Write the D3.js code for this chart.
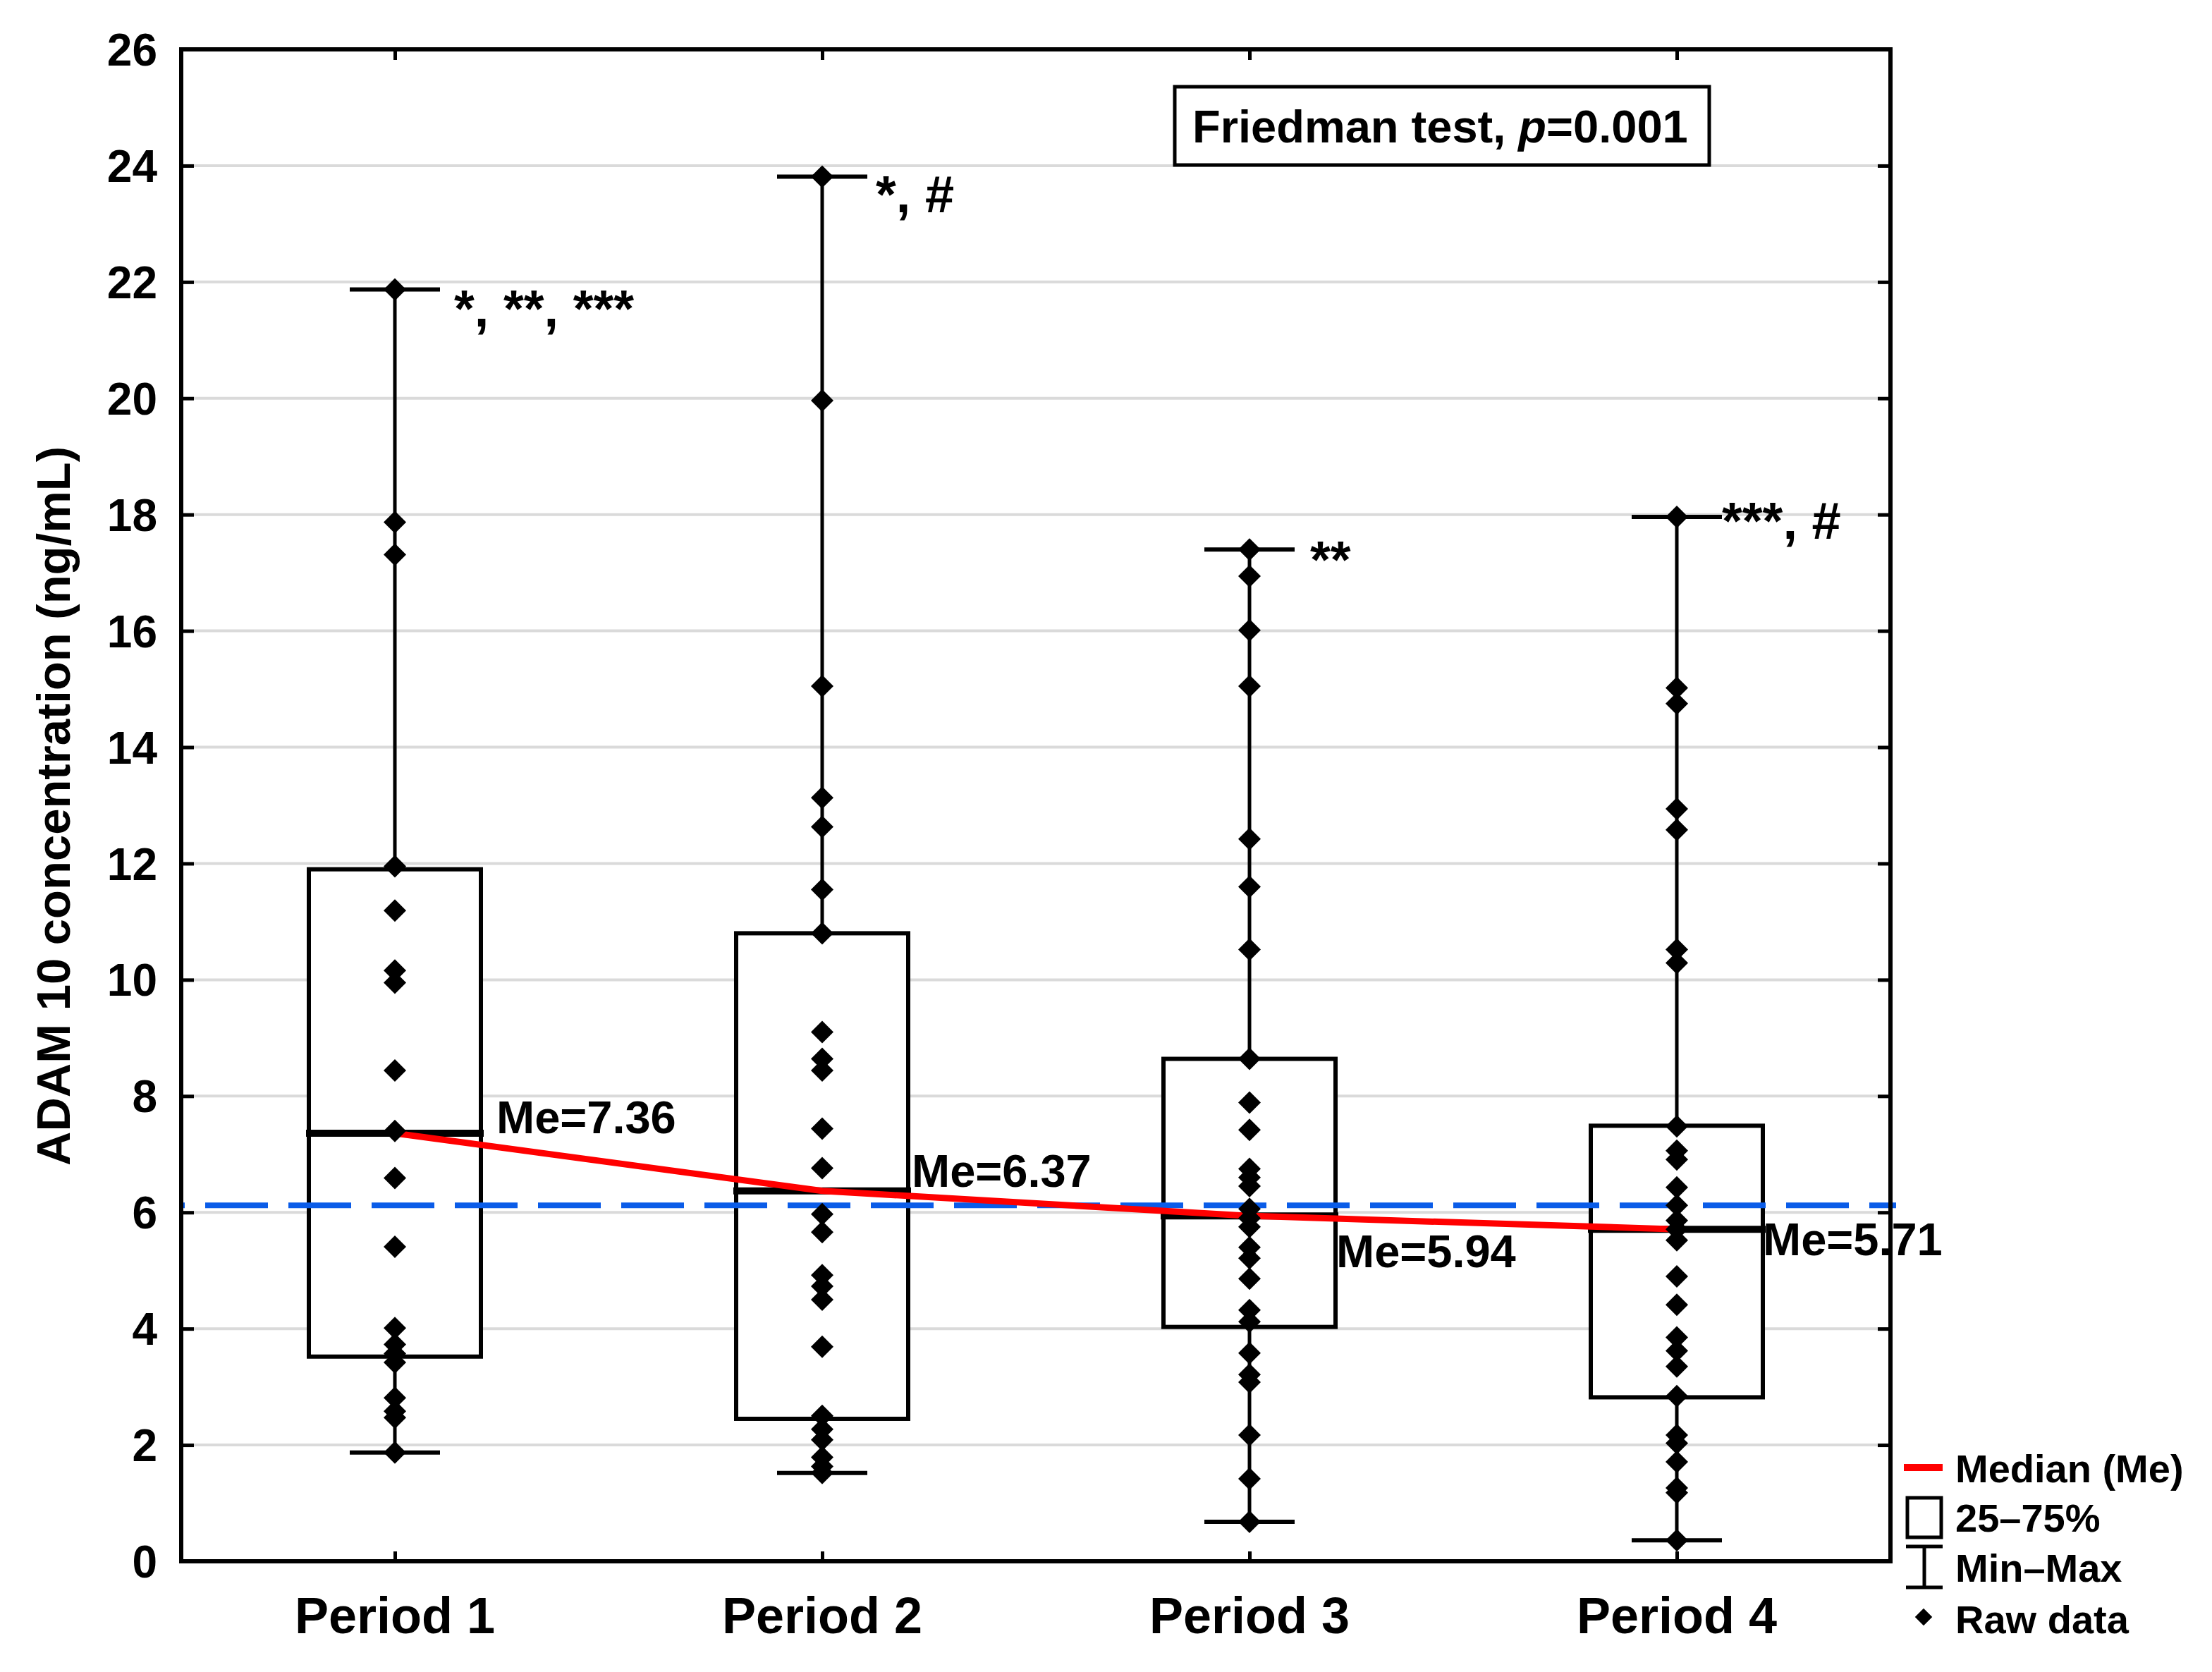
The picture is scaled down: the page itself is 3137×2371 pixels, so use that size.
<!DOCTYPE html>
<html>
<head>
<meta charset="utf-8">
<script src="https://d3js.org/d3.v7.min.js"></script>
<style>
    body { margin: 0; background: #fff; }
    svg { display: block; }
    text { font-family: 'Liberation Sans', Arial, sans-serif; font-weight: bold; fill: #000; }
</style>
</head>
<body>
<svg id="chart" width="3137" height="2371"></svg>
<script>
// values
const periods = ['Period 1', 'Period 2', 'Period 3', 'Period 4'];
const minValues = [1.87, 1.52, 0.68, 0.36];
const q1Values = [3.52, 2.45, 4.03, 2.82];
const medianValues = [7.36, 6.37, 5.94, 5.71];
const q3Values = [11.90, 10.80, 8.64, 7.49];
const maxValues = [21.87, 23.81, 17.40, 17.96];

const rawPeriod1 = [21.87, 17.87, 17.31, 11.95, 11.19, 10.16, 9.95, 8.44, 7.40, 6.59, 5.41,
    4.01, 3.73, 3.57, 3.42, 2.81, 2.58, 2.47, 1.87];
const rawPeriod2 = [23.81, 19.96, 15.05, 13.13, 12.63, 11.55, 10.80, 9.10, 8.64, 8.44, 7.44,
    6.76, 5.97, 5.66, 4.92, 4.73, 4.50, 3.69, 2.50, 2.27, 2.09, 1.79, 1.63, 1.52];
const rawPeriod3 = [17.40, 16.94, 16.01, 15.05, 12.42, 11.60, 10.52, 8.64, 7.89, 7.42, 6.75,
    6.60, 6.45, 6.06, 5.90, 5.75, 5.40, 5.21, 4.86, 4.32, 4.12, 3.58, 3.21, 3.08, 2.17, 1.42, 0.68];
const rawPeriod4 = [17.96, 15.02, 14.75, 12.94, 12.58, 10.52, 10.29, 7.48, 7.06, 6.91, 6.43,
    6.12, 5.86, 5.71, 5.52, 4.90, 4.41, 3.85, 3.62, 3.35, 2.84, 2.17, 2.03, 1.71, 1.26, 1.18, 0.36];
const rawData = [rawPeriod1, rawPeriod2, rawPeriod3, rawPeriod4];

const significance = ['*, **, ***', '*, #', '**', '***, #'];
const referenceLevel = 6.12;
const yTicks = [0, 2, 4, 6, 8, 10, 12, 14, 16, 18, 20, 22, 24, 26];
const legendItems = ['Median (Me)', '25\u201375%', 'Min\u2013Max', 'Raw data'];

// label placement (layout only)
const meLabelOffsets = [{ dx: 144, dy: 0 }, { dx: 127, dy: -6 }, { dx: 123, dy: 73 }, { dx: 122, dy: 37 }];
const sigOffsets = [{ dx: 84, dy: 52 }, { dx: 76, dy: 50 }, { dx: 86, dy: 40 }, { dx: 64, dy: 31 }];

const plot = { left: 257, right: 2681, top: 70, bottom: 2214 };
const boxHalf = 122, capHalf = 64;

const svg = d3.select('#chart');

const x = d3.scalePoint()
    .domain(periods)
    .range([plot.left, plot.right])
    .padding(0.5);

const y = d3.scaleLinear()
    .domain([0, 26])
    .range([plot.bottom, plot.top]);

const stats = periods.map((p, i) => ({
    period: p,
    min: minValues[i],
    q1: q1Values[i],
    median: medianValues[i],
    q3: q3Values[i],
    max: maxValues[i],
    raw: rawData[i],
    sig: significance[i],
    me: meLabelOffsets[i],
    so: sigOffsets[i]
}));

// grid
svg.append('g')
    .selectAll('line')
    .data(yTicks.filter(t => t > 0 && t < 26))
    .join('line')
    .attr('x1', plot.left).attr('x2', plot.right)
    .attr('y1', d => y(d)).attr('y2', d => y(d))
    .attr('stroke', '#dadada')
    .attr('stroke-width', 4);

// axes: left and right with inward ticks
svg.append('g')
    .attr('transform', `translate(${plot.left},0)`)
    .call(d3.axisRight(y).tickValues(yTicks).tickSize(18).tickFormat(''))
    .call(g => g.select('.domain').remove())
    .call(g => g.selectAll('line').attr('stroke-width', 5));

svg.append('g')
    .attr('transform', `translate(${plot.right},0)`)
    .call(d3.axisLeft(y).tickValues(yTicks).tickSize(18).tickFormat(''))
    .call(g => g.select('.domain').remove())
    .call(g => g.selectAll('line').attr('stroke-width', 5));

svg.append('g')
    .attr('transform', `translate(0,${plot.bottom})`)
    .call(d3.axisTop(x).tickSize(14).tickFormat(''))
    .call(g => g.select('.domain').remove())
    .call(g => g.selectAll('line').attr('stroke-width', 5));

svg.append('g')
    .attr('transform', `translate(0,${plot.top})`)
    .call(d3.axisBottom(x).tickSize(15).tickFormat(''))
    .call(g => g.select('.domain').remove())
    .call(g => g.selectAll('line').attr('stroke-width', 5));

// tick labels
svg.append('g')
    .selectAll('text')
    .data(yTicks)
    .join('text')
    .attr('x', 223)
    .attr('y', d => y(d))
    .attr('dy', '0.36em')
    .attr('text-anchor', 'end')
    .attr('font-size', 64)
    .text(d => d);

svg.append('g')
    .selectAll('text')
    .data(periods)
    .join('text')
    .attr('x', d => x(d))
    .attr('y', 2316)
    .attr('text-anchor', 'middle')
    .attr('font-size', 72)
    .text(d => d);

svg.append('text')
    .attr('transform', 'translate(99,1143) rotate(-90)')
    .attr('text-anchor', 'middle')
    .attr('font-size', 67)
    .text('ADAM 10 concentration (ng/mL)');

// whiskers
const box = svg.append('g')
    .selectAll('g')
    .data(stats)
    .join('g');

box.append('line')
    .attr('x1', d => x(d.period)).attr('x2', d => x(d.period))
    .attr('y1', d => y(d.min)).attr('y2', d => y(d.max))
    .attr('stroke', '#000').attr('stroke-width', 5);

box.selectAll('.cap')
    .data(d => [{ p: d.period, v: d.min }, { p: d.period, v: d.max }])
    .join('line')
    .attr('class', 'cap')
    .attr('x1', d => x(d.p) - capHalf).attr('x2', d => x(d.p) + capHalf)
    .attr('y1', d => y(d.v)).attr('y2', d => y(d.v))
    .attr('stroke', '#000').attr('stroke-width', 6);

box.append('rect')
    .attr('x', d => x(d.period) - boxHalf)
    .attr('width', boxHalf * 2)
    .attr('y', d => y(d.q3))
    .attr('height', d => y(d.q1) - y(d.q3))
    .attr('fill', '#fff')
    .attr('stroke', '#000').attr('stroke-width', 6);

box.append('line')
    .attr('x1', d => x(d.period) - boxHalf - 4).attr('x2', d => x(d.period) + boxHalf + 4)
    .attr('y1', d => y(d.median)).attr('y2', d => y(d.median))
    .attr('stroke', '#000').attr('stroke-width', 10);

// reference level
svg.append('line')
    .attr('x1', plot.left).attr('x2', plot.right + 8)
    .attr('y1', y(referenceLevel)).attr('y2', y(referenceLevel))
    .attr('stroke', '#0a5ce8')
    .attr('stroke-width', 8)
    .attr('stroke-dasharray', '89,29')
    .attr('stroke-dashoffset', 84);

// median trend
svg.append('path')
    .datum(stats)
    .attr('fill', 'none')
    .attr('stroke', '#ff0000')
    .attr('stroke-width', 9)
    .attr('d', d3.line().x(d => x(d.period)).y(d => y(d.median)));

// raw points
const diamond = d3.symbol().type(d3.symbolSquare).size(512);
svg.append('g')
    .selectAll('path')
    .data(stats.flatMap(d => d.raw.map(v => ({ p: d.period, v: v }))))
    .join('path')
    .attr('d', diamond)
    .attr('transform', d => `translate(${x(d.p)},${y(d.v)}) rotate(45)`)
    .attr('fill', '#000');

// labels
box.append('text')
    .attr('x', d => x(d.period) + d.me.dx)
    .attr('y', d => y(d.median) + d.me.dy)
    .attr('font-size', 65)
    .text(d => `Me=${d.median.toFixed(2)}`);

box.append('text')
    .attr('x', d => x(d.period) + d.so.dx)
    .attr('y', d => y(d.max) + d.so.dy)
    .attr('font-size', 74)
    .attr('xml:space', 'preserve')
    .text(d => d.sig);

// frame
svg.append('rect')
    .attr('x', plot.left).attr('y', plot.top)
    .attr('width', plot.right - plot.left)
    .attr('height', plot.bottom - plot.top)
    .attr('fill', 'none')
    .attr('stroke', '#000')
    .attr('stroke-width', 6);

// test box
svg.append('rect')
    .attr('x', 1666).attr('y', 123)
    .attr('width', 758).attr('height', 111)
    .attr('fill', '#fff')
    .attr('stroke', '#000').attr('stroke-width', 5);

const testText = svg.append('text')
    .attr('x', 1691).attr('y', 202)
    .attr('font-size', 65);
testText.append('tspan').text('Friedman test, ');
testText.append('tspan').attr('font-style', 'italic').text('p');
testText.append('tspan').text('=0.001');

// legend
const legend = svg.append('g');
const legendBaselines = [2102, 2172, 2243, 2316];

legend.append('line')
    .attr('x1', 2700).attr('x2', 2755)
    .attr('y1', 2081).attr('y2', 2081)
    .attr('stroke', '#ff0000').attr('stroke-width', 10);

legend.append('rect')
    .attr('x', 2705).attr('y', 2124)
    .attr('width', 48).attr('height', 56)
    .attr('fill', '#fff')
    .attr('stroke', '#000').attr('stroke-width', 5);

legend.append('path')
    .attr('d', 'M2703,2193H2755M2729,2193V2251M2703,2251H2755')
    .attr('fill', 'none')
    .attr('stroke', '#000').attr('stroke-width', 5);

legend.append('path')
    .attr('d', d3.symbol().type(d3.symbolSquare).size(300))
    .attr('transform', 'translate(2728,2293) rotate(45)')
    .attr('fill', '#000');

legend.selectAll('text')
    .data(legendItems)
    .join('text')
    .attr('x', 2773)
    .attr('y', (d, i) => legendBaselines[i])
    .attr('font-size', 56)
    .text(d => d);
</script>
</body>
</html>
